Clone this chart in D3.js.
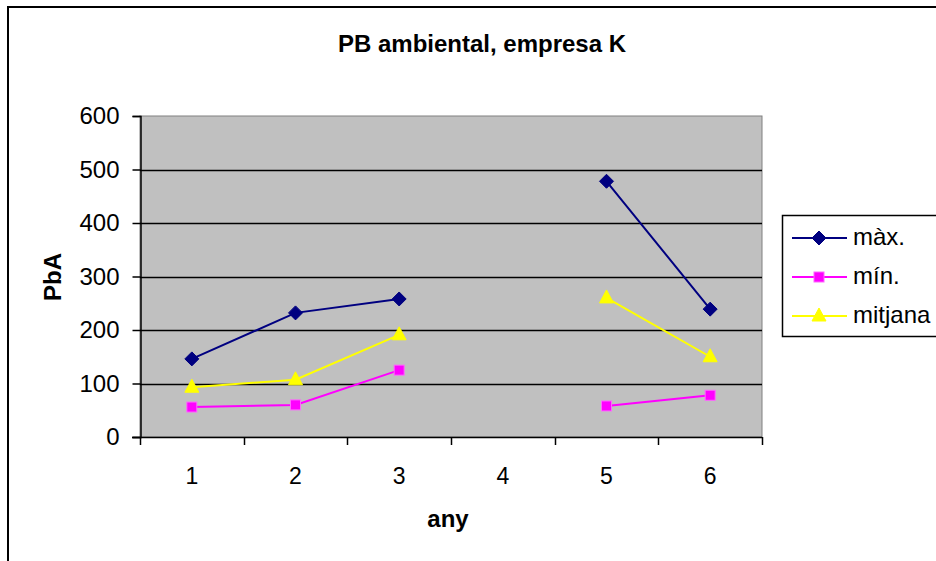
<!DOCTYPE html>
<html>
<head>
<meta charset="utf-8">
<script src="https://cdn.jsdelivr.net/npm/d3@7"></script>
<style>
  body { margin: 0; background: #fff; }
  svg { display: block; font-family: "Liberation Sans", Arial, sans-serif; }
</style>
</head>
<body>
<svg id="chart" width="936" height="561"></svg>
<script>
// dades llegides del gràfic (any 4 sense dades)
const anys = ["1", "2", "3", "4", "5", "6"];
const maxim = [146, 232, 258, null, 478, 239];
const minim = [56, 60, 125, null, 58, 78];
const mitjana = [93, 107, 191, null, 260, 150];
const yTicks = [0, 100, 200, 300, 400, 500, 600];

const series = [
    { nom: "màx.", valors: maxim, color: "#000080", marca: "diamond" },
    { nom: "mín.", valors: minim, color: "#FF00FF", marca: "square" },
    { nom: "mitjana", valors: mitjana, color: "#FFFF00", marca: "triangle" }
];

const svg = d3.select("#chart");
const plotLeft = 140, plotRight = 762, plotTop = 116, plotBottom = 437;

// marc exterior
svg.append("rect")
    .attr("x", 8).attr("y", 7)
    .attr("width", 960).attr("height", 600)
    .attr("fill", "#fff")
    .attr("stroke", "#000")
    .attr("stroke-width", 2);

const x = d3.scaleBand().domain(anys).range([plotLeft, plotRight]);
const y = d3.scaleLinear().domain([0, 600]).range([plotBottom, plotTop]);

// fons de l'àrea de traçat
svg.append("rect")
    .attr("x", plotLeft).attr("y", plotTop)
    .attr("width", plotRight - plotLeft).attr("height", plotBottom - plotTop)
    .attr("fill", "#C0C0C0")
    .attr("stroke", "#808080")
    .attr("stroke-width", 1);

// línies de la graella
svg.append("g")
    .selectAll("line")
    .data(yTicks.filter(t => t > 0 && t < 600))
    .join("line")
    .attr("x1", plotLeft).attr("x2", plotRight)
    .attr("y1", d => Math.round(y(d)) + 0.5)
    .attr("y2", d => Math.round(y(d)) + 0.5)
    .attr("stroke", "#000")
    .attr("stroke-width", 1.5);

// eix Y
let yAxis = svg.append("g")
    .attr("transform", "translate(" + (plotLeft + 0.5) + ",0)")
    .call(d3.axisLeft(y).tickValues(yTicks).tickSize(8).tickPadding(13));
yAxis.select(".domain").attr("stroke", "#000").attr("stroke-width", 1.5);
yAxis.selectAll(".tick line").attr("stroke", "#000").attr("stroke-width", 1.5);
yAxis.selectAll(".tick text")
    .attr("font-size", 24)
    .attr("font-family", "Liberation Sans, Arial, sans-serif")
    .attr("fill", "#000");

// eix X: marques entre categories
const xAxisG = svg.append("g");
xAxisG.append("line")
    .attr("x1", plotLeft - 8).attr("x2", plotRight)
    .attr("y1", plotBottom + 0.5).attr("y2", plotBottom + 0.5)
    .attr("stroke", "#000").attr("stroke-width", 1.5);
xAxisG.selectAll(".sep")
    .data(anys.concat(["end"]))
    .join("line")
    .attr("class", "sep")
    .attr("x1", (d, i) => Math.round(plotLeft + i * x.step()) + 0.5)
    .attr("x2", (d, i) => Math.round(plotLeft + i * x.step()) + 0.5)
    .attr("y1", plotBottom)
    .attr("y2", plotBottom + 8)
    .attr("stroke", "#000").attr("stroke-width", 1.5);
xAxisG.selectAll(".lbl")
    .data(anys)
    .join("text")
    .attr("class", "lbl")
    .attr("x", d => x(d) + x.bandwidth() / 2)
    .attr("y", 484)
    .attr("text-anchor", "middle")
    .attr("font-size", 23)
    .text(d => d);

// sèries
const line = d3.line()
    .defined(d => d.v !== null)
    .x(d => x(d.any) + x.bandwidth() / 2)
    .y(d => y(d.v));

function drawMarker(g, s, cx, cy) {
    if (s.marca === "diamond") {
        g.append("path")
            .attr("d", "M0,-7L7,0L0,7L-7,0Z")
            .attr("transform", "translate(" + cx + "," + cy + ")")
            .attr("fill", s.color)
            .attr("stroke", s.color);
    } else if (s.marca === "square") {
        g.append("rect")
            .attr("x", cx - 5).attr("y", cy - 5)
            .attr("width", 10).attr("height", 10)
            .attr("fill", s.color)
            .attr("stroke", "#ff66ff").attr("stroke-width", 1);
    } else {
        g.append("path")
            .attr("d", "M0,-8L7,5L-7,5Z")
            .attr("transform", "translate(" + cx + "," + cy + ")")
            .attr("fill", s.color)
            .attr("stroke", s.color);
    }
}

series.forEach(function(s) {
    let punts = anys.map((a, i) => ({ any: a, v: s.valors[i] }));
    let g = svg.append("g");
    g.append("path")
        .attr("d", line(punts))
        .attr("fill", "none")
        .attr("stroke", s.color)
        .attr("stroke-width", 2);
    punts.filter(p => p.v !== null).forEach(function(p) {
        drawMarker(g, s, x(p.any) + x.bandwidth() / 2, y(p.v));
    });
});

// llegenda
const leg = svg.append("g");
leg.append("rect")
    .attr("x", 782.5).attr("y", 215.5)
    .attr("width", 200).attr("height", 121)
    .attr("fill", "#fff")
    .attr("stroke", "#000")
    .attr("stroke-width", 1.5);
series.forEach(function(s, i) {
    let ly = 238 + i * 39;
    leg.append("line")
        .attr("x1", 792).attr("x2", 847)
        .attr("y1", ly).attr("y2", ly)
        .attr("stroke", s.color).attr("stroke-width", 2);
    drawMarker(leg, s, 819, ly);
    leg.append("text")
        .attr("x", 853).attr("y", ly + 7)
        .attr("font-size", 24)
        .text(s.nom);
});

// títols
svg.append("text")
    .attr("x", 482).attr("y", 52)
    .attr("text-anchor", "middle")
    .attr("font-size", 24).attr("font-weight", "bold")
    .text("PB ambiental, empresa K");

svg.append("text")
    .attr("transform", "translate(61,277) rotate(-90)")
    .attr("text-anchor", "middle")
    .attr("font-size", 24).attr("font-weight", "bold")
    .text("PbA");

svg.append("text")
    .attr("x", 448).attr("y", 527)
    .attr("text-anchor", "middle")
    .attr("font-size", 24).attr("font-weight", "bold")
    .text("any");
</script>
</body>
</html>
